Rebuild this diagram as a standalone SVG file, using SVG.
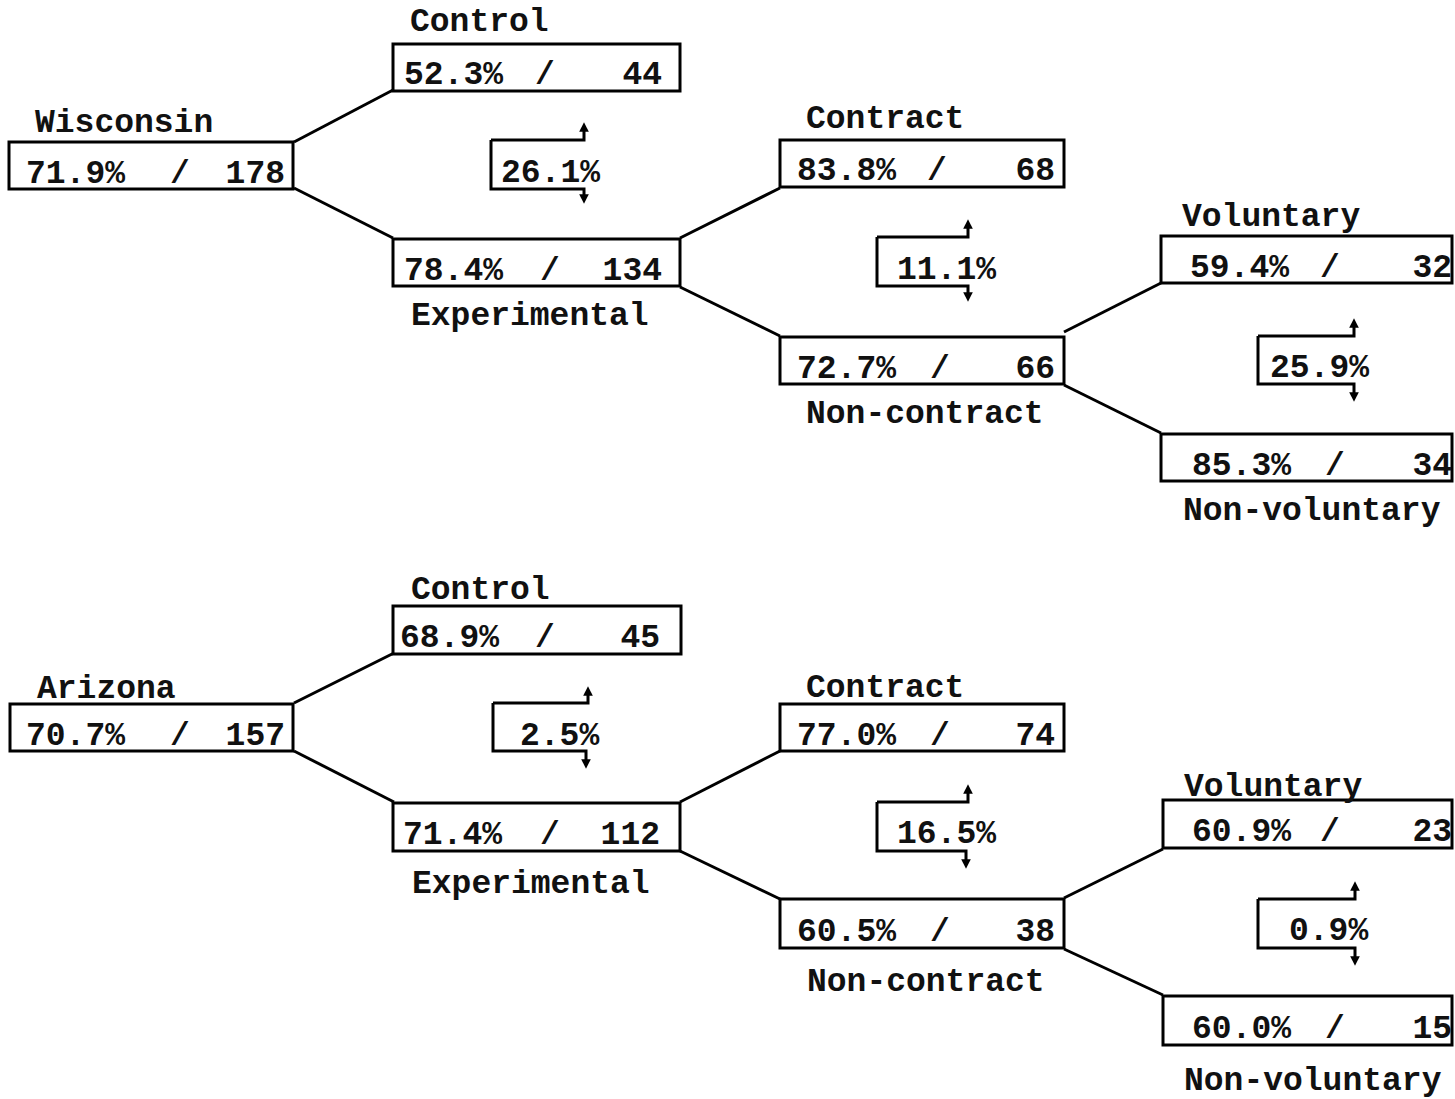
<svg xmlns="http://www.w3.org/2000/svg" width="1455" height="1099" viewBox="0 0 1455 1099">
<defs>
<marker id="ah" viewBox="0 0 10 10" refX="5" refY="5" markerWidth="3.2" markerHeight="3.2" orient="auto">
<path d="M0,0 L10,5 L0,10 z" fill="#000"/>
</marker>
<style>
.box{fill:#fff;stroke:#000;stroke-width:3}
.t{font-family:"Liberation Mono","DejaVu Sans Mono",monospace;font-size:33px;font-weight:bold;fill:#111}
.e{text-anchor:end}
.m{text-anchor:middle}
.c{fill:none;stroke:#000;stroke-width:3}
.br{fill:none;stroke:#000;stroke-width:3;marker-end:url(#ah)}
</style>
</defs>
<rect width="1455" height="1099" fill="#fff"/>
<g id="connectors">
<line class="c" x1="294" y1="142" x2="393" y2="90"/>
<line class="c" x1="294" y1="188" x2="393" y2="238"/>
<line class="c" x1="680" y1="238" x2="780" y2="188"/>
<line class="c" x1="680" y1="287" x2="780" y2="336"/>
<line class="c" x1="1064" y1="332" x2="1161" y2="283"/>
<line class="c" x1="1064" y1="385" x2="1161" y2="433"/>
<line class="c" x1="294" y1="703" x2="394" y2="653"/>
<line class="c" x1="294" y1="751" x2="394" y2="802"/>
<line class="c" x1="680" y1="802" x2="780" y2="751"/>
<line class="c" x1="680" y1="851" x2="780" y2="899"/>
<line class="c" x1="1064" y1="898" x2="1163" y2="849"/>
<line class="c" x1="1064" y1="949" x2="1163" y2="995"/>
</g>
<g id="wisconsin">
<rect class="box" x="9" y="142" width="284" height="47"/>
<text class="t" x="35" y="132">Wisconsin</text>
<text class="t" x="26" y="183">71.9%</text><text class="t m" x="180" y="183">/</text><text class="t e" x="285" y="183">178</text>
</g>
<g id="w-control">
<rect class="box" x="393" y="44" width="287" height="47"/>
<text class="t" x="410" y="31">Control</text>
<text class="t" x="404" y="84">52.3%</text><text class="t m" x="545" y="84">/</text><text class="t e" x="662" y="84">44</text>
</g>
<g id="w-experimental">
<rect class="box" x="393" y="239" width="287" height="47"/>
<text class="t" x="411" y="325">Experimental</text>
<text class="t" x="404" y="280">78.4%</text><text class="t m" x="550" y="280">/</text><text class="t e" x="662" y="280">134</text>
</g>
<g id="w-diff1">
<path class="br" d="M491,140 L584,140 L584,127"/>
<path class="br" d="M491,140 L491,189 L584,189 L584,199"/>
<text class="t" x="501" y="182">26.1%</text>
</g>
<g id="w-contract">
<rect class="box" x="780" y="140" width="284" height="47"/>
<text class="t" x="806" y="128">Contract</text>
<text class="t" x="797" y="180">83.8%</text><text class="t m" x="937" y="180">/</text><text class="t e" x="1055" y="180">68</text>
</g>
<g id="w-diff2">
<path class="br" d="M877,237 L968,237 L968,224"/>
<path class="br" d="M877,237 L877,286 L968,286 L968,297"/>
<text class="t" x="897" y="279">11.1%</text>
</g>
<g id="w-noncontract">
<rect class="box" x="780" y="337" width="284" height="47"/>
<text class="t" x="806" y="423">Non-contract</text>
<text class="t" x="797" y="378">72.7%</text><text class="t m" x="940" y="378">/</text><text class="t e" x="1055" y="378">66</text>
</g>
<g id="w-voluntary">
<rect class="box" x="1161" y="236" width="291" height="47"/>
<text class="t" x="1182" y="226">Voluntary</text>
<text class="t" x="1190" y="277">59.4%</text><text class="t m" x="1330" y="277">/</text><text class="t e" x="1452" y="277">32</text>
</g>
<g id="w-diff3">
<path class="br" d="M1258,336 L1354,336 L1354,323"/>
<path class="br" d="M1258,336 L1258,384 L1354,384 L1354,397"/>
<text class="t" x="1270" y="377">25.9%</text>
</g>
<g id="w-nonvoluntary">
<rect class="box" x="1161" y="434" width="291" height="47"/>
<text class="t" x="1183" y="520">Non-voluntary</text>
<text class="t" x="1192" y="475">85.3%</text><text class="t m" x="1335" y="475">/</text><text class="t e" x="1452" y="475">34</text>
</g>
<g id="arizona">
<rect class="box" x="10" y="704" width="283" height="47"/>
<text class="t" x="37" y="698">Arizona</text>
<text class="t" x="26" y="745">70.7%</text><text class="t m" x="180" y="745">/</text><text class="t e" x="285" y="745">157</text>
</g>
<g id="a-control">
<rect class="box" x="393" y="606" width="288" height="48"/>
<text class="t" x="411" y="599">Control</text>
<text class="t" x="400" y="647">68.9%</text><text class="t m" x="545" y="647">/</text><text class="t e" x="660" y="647">45</text>
</g>
<g id="a-experimental">
<rect class="box" x="393" y="803" width="287" height="48"/>
<text class="t" x="412" y="893">Experimental</text>
<text class="t" x="403" y="844">71.4%</text><text class="t m" x="550" y="844">/</text><text class="t e" x="660" y="844">112</text>
</g>
<g id="a-diff1">
<path class="br" d="M493,703 L588,703 L588,691"/>
<path class="br" d="M493,703 L493,751 L586,751 L586,764"/>
<text class="t" x="520" y="745">2.5%</text>
</g>
<g id="a-contract">
<rect class="box" x="780" y="704" width="284" height="47"/>
<text class="t" x="806" y="697">Contract</text>
<text class="t" x="797" y="745">77.0%</text><text class="t m" x="940" y="745">/</text><text class="t e" x="1055" y="745">74</text>
</g>
<g id="a-diff2">
<path class="br" d="M877,802 L968,802 L968,789"/>
<path class="br" d="M877,802 L877,851 L966,851 L966,864"/>
<text class="t" x="897" y="843">16.5%</text>
</g>
<g id="a-noncontract">
<rect class="box" x="780" y="899" width="284" height="49"/>
<text class="t" x="807" y="991">Non-contract</text>
<text class="t" x="797" y="941">60.5%</text><text class="t m" x="940" y="941">/</text><text class="t e" x="1055" y="941">38</text>
</g>
<g id="a-voluntary">
<rect class="box" x="1163" y="800" width="289" height="48"/>
<text class="t" x="1184" y="796">Voluntary</text>
<text class="t" x="1192" y="841">60.9%</text><text class="t m" x="1330" y="841">/</text><text class="t e" x="1452" y="841">23</text>
</g>
<g id="a-diff3">
<path class="br" d="M1258,899 L1355,899 L1355,886"/>
<path class="br" d="M1258,899 L1258,948 L1355,948 L1355,961"/>
<text class="t" x="1289" y="940">0.9%</text>
</g>
<g id="a-nonvoluntary">
<rect class="box" x="1163" y="996" width="289" height="49"/>
<text class="t" x="1184" y="1090">Non-voluntary</text>
<text class="t" x="1192" y="1038">60.0%</text><text class="t m" x="1335" y="1038">/</text><text class="t e" x="1452" y="1038">15</text>
</g>
</svg>
